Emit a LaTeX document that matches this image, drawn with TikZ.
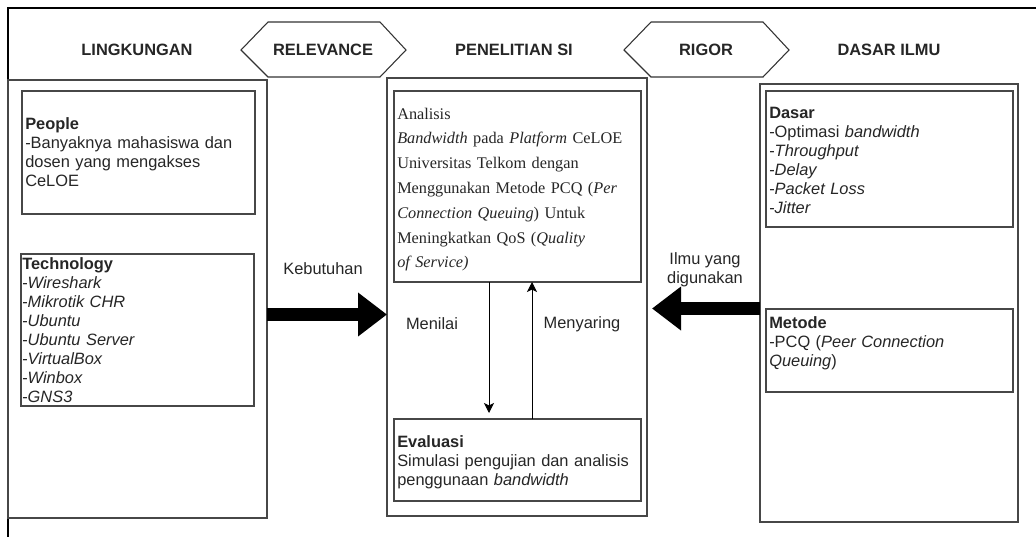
\documentclass[tikz,border=0pt]{standalone}
\usepackage{fontspec}
\setmainfont{Liberation Sans}
\newfontfamily\tnrfont{Liberation Serif}
\usetikzlibrary{arrows.meta,fit,calc}
\newcommand\sansbody{\fontsize{12.3pt}{14.3pt}\selectfont}
\newcommand\serifbody{\tnrfont\fontsize{12.2pt}{18.6pt}\selectfont}
\tikzset{
  box/.style={draw=black!72, line width=0.9pt, inner sep=0pt, outer sep=0pt},
  txt/.style={text=black!85, inner sep=0pt, anchor=base west, align=left, text width=200pt, font=\sansbody},
  stxt/.style={text=black!85, inner sep=0pt, anchor=base west, align=left, text width=200pt, font=\serifbody},
  hdr/.style={font=\bfseries\sansbody, text=black!85, inner sep=0pt},
  lbl/.style={font=\sansbody, text=black!85, inner sep=0pt, align=center},
  hexa/.style={draw=black!80, line width=0.8pt},
  bigarrow/.style={line width=9.75pt, black, -{Triangle[length=21.75pt,width=31.5pt]}},
  thinarrow/.style={draw=black, line width=0.75pt, -{Stealth[length=7.5pt,width=7.5pt,inset=1.8pt]}}
}
\begin{document}
\begin{tikzpicture}[x=0.75pt,y=-0.75pt]
\clip (0,0) rectangle (1036,536);
\fill[white] (0,0) rectangle (1036,536);
% outer frame
\draw[line width=1.5pt, black] (8,600) -- (8,8) -- (1100,8);

% headers
\node[hdr] (hl) at (137,50) {LINGKUNGAN};
\node[hdr] (hc) at (514,50) {PENELITIAN SI};
\node[hdr] (hr) at (889,50) {DASAR ILMU};
\draw[hexa] (241,50) -- (268,22) -- (380,22) -- (406,50) -- (380,77) -- (268,77) -- cycle;
\node[hdr] (relev) at (323,50) {RELEVANCE};
\draw[hexa] (624,50) -- (651,22) -- (763,22) -- (789,50) -- (763,77) -- (651,77) -- cycle;
\node[hdr] (rigor) at (706,50) {RIGOR};

% big boxes
\node[box, fit={(8,80) (267,518)}] (leftbox) {};
\node[box, fit={(387,78) (647,516)}] (centerbox) {};
\node[box, fit={(760,84) (1018,522)}] (rightbox) {};

% left inner boxes
\node[box, fit={(22,91) (255,214)}] (people) {};
\node[txt] (peopletxt) at (25,129) {\textbf{People}\\-Banyaknya mahasiswa dan\\dosen yang mengakses\\CeLOE};
\node[box, fit={(21,254) (254,406)}] (tech) {};
\node[txt] (techtxt) at (22,269) {\textbf{Technology}\\-\textit{Wireshark}\\-\textit{Mikrotik CHR}\\-\textit{Ubuntu}\\-\textit{Ubuntu Server}\\-\textit{VirtualBox}\\-\textit{Winbox}\\-\textit{GNS3}};

% center inner boxes
\node[box, fit={(394,91) (641,282)}] (analisis) {};
\node[stxt] (analisistxt) at (397,119) {Analisis\\\textit{Bandwidth} pada \textit{Platform} CeLOE\\Universitas Telkom dengan\\Menggunakan Metode PCQ (\textit{Per}\\\textit{Connection Queuing}) Untuk\\Meningkatkan QoS (\textit{Quality}\\\textit{of Service)}};
\node[box, fit={(394,419) (641,501)}] (evaluasi) {};
\node[txt] (evaluasitxt) at (397,447) {\textbf{Evaluasi}\\Simulasi pengujian dan analisis\\penggunaan \textit{bandwidth}};

% right inner boxes
\node[box, fit={(766,91) (1013,227)}] (dasar) {};
\node[txt] (dasartxt) at (769,118) {\textbf{Dasar}\\-Optimasi \textit{bandwidth}\\-\textit{Throughput}\\-\textit{Delay}\\-\textit{Packet Loss}\\-\textit{Jitter}};
\node[box, fit={(766,309) (1013,392)}] (metode) {};
\node[txt] (metodetxt) at (769,328) {\textbf{Metode}\\-PCQ (\textit{Peer Connection}\\\textit{Queuing})};

% thin arrows
\coordinate (dnend) at (489,413);
\draw[thinarrow] (analisis.south -| 489,0) -- (dnend);
\draw[thinarrow] (evaluasi.north -| 532,0) -- (analisis.south -| 532,0);
\node[lbl] (menilai) at (432,324) {Menilai};
\node[lbl] (menyaring) at (582,324) {Menyaring};

% big arrows
\draw[bigarrow] (leftbox.east |- 0,314.5) -- (centerbox.west |- 0,314.5);
\node[lbl] (kebutuhan) at (323,269) {Kebutuhan};
\draw[bigarrow, shorten >=3.75pt] (rightbox.west |- 0,308.5) -- (centerbox.east |- 0,308.5);
\node[lbl] (ilmu) at (705,270) {Ilmu yang\\digunakan};
\end{tikzpicture}
\end{document}
